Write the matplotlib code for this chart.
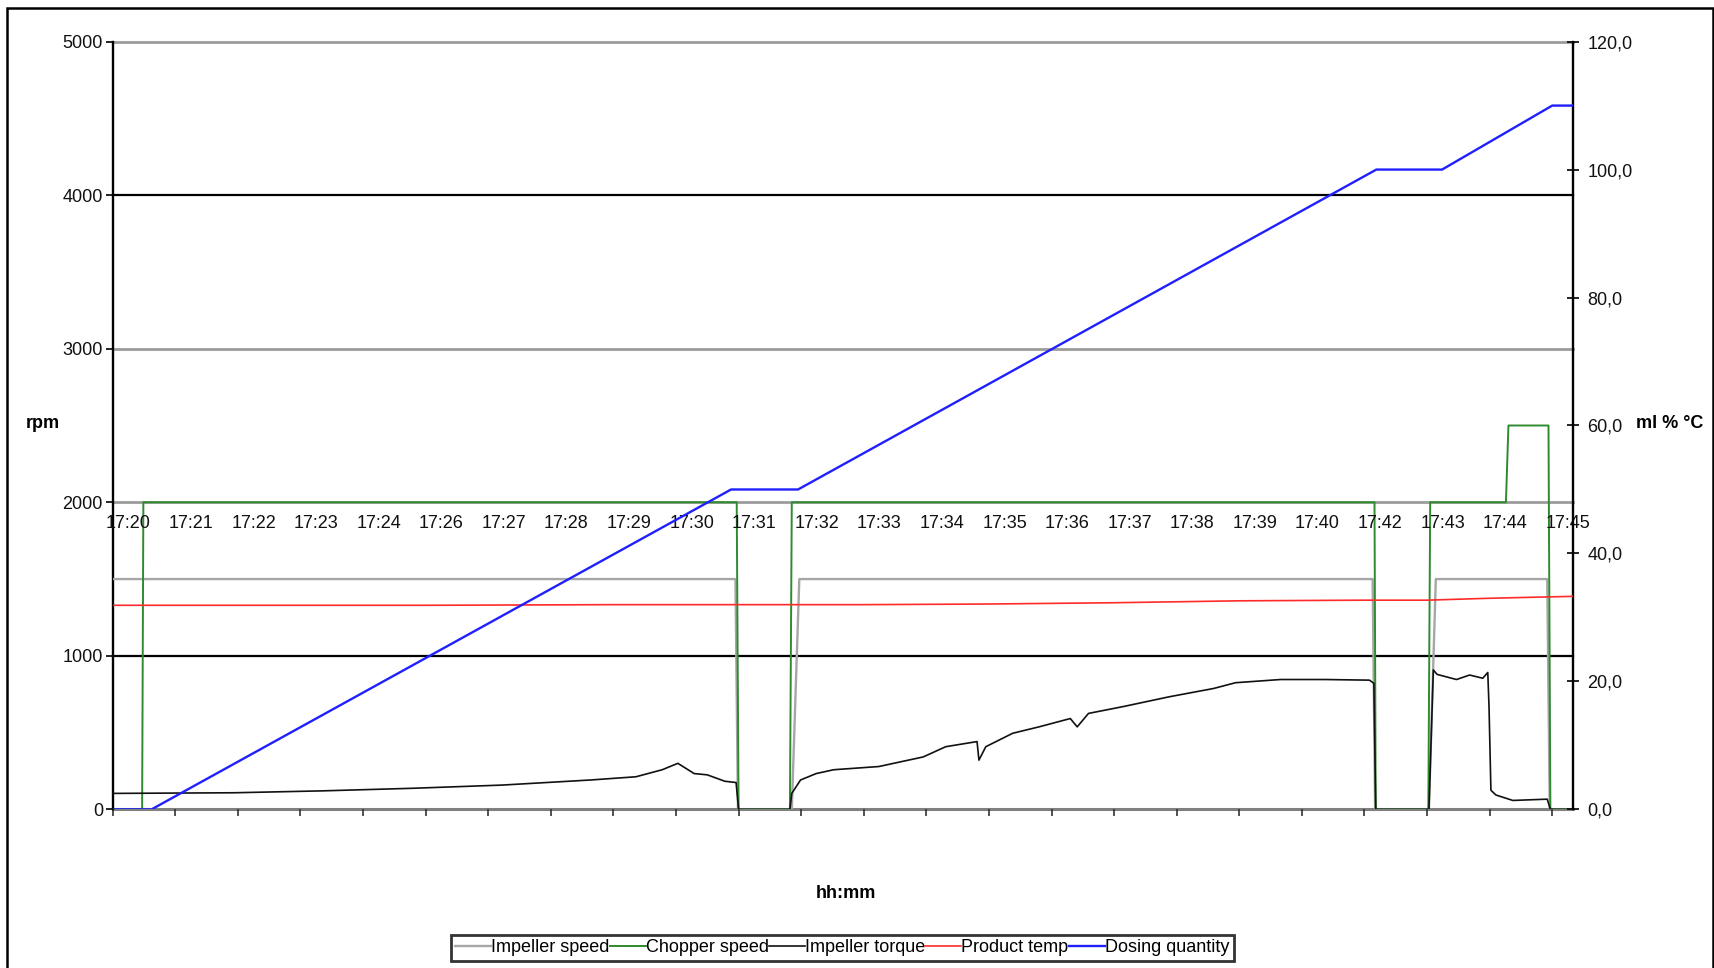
import matplotlib
matplotlib.use("Agg")
import matplotlib.pyplot as plt
from matplotlib.patches import Rectangle
from matplotlib.ticker import FuncFormatter

plt.rcParams['font.family'] = ['Liberation Sans', 'DejaVu Sans']

# ---- data (x in tick-index units: 0 = 17:20 label ... 23 = 17:45 label) ----
time_labels = ["17:20", "17:21", "17:22", "17:23", "17:24", "17:26", "17:27", "17:28",
               "17:29", "17:30", "17:31", "17:32", "17:33", "17:34", "17:35", "17:36",
               "17:37", "17:38", "17:39", "17:40", "17:42", "17:43", "17:44", "17:45"]

speed_t = [0, 9.95, 9.99, 10.85, 10.97, 20.13, 20.17, 21.03, 21.14, 22.92, 22.96, 23.33]
speed_rpm = [1500, 1500, 0, 0, 1500, 1500, 0, 0, 1500, 1500, 0, 0]

chopper_t = [0, 0.47, 0.49, 9.97, 10.0, 10.82, 10.85, 20.16, 20.18, 21.02, 21.05,
             22.26, 22.30, 22.94, 22.97, 23.33]
chopper_rpm = [0, 0, 2000, 2000, 0, 0, 2000, 2000, 0, 0, 2000, 2000, 2500, 2500, 0, 0]

torque_t = [0, 1.94, 3.36, 4.79, 6.22, 7.64, 8.36, 8.78, 9.03, 9.29, 9.5, 9.78, 9.96, 10.0,
            10.82, 10.85, 10.99, 11.24, 11.52, 12.24, 12.95, 13.31, 13.81, 13.84, 13.95,
            14.38, 14.8, 15.3, 15.41, 15.59, 16.16, 16.88, 17.59, 17.94, 18.66, 19.37,
            20.08, 20.15, 20.18, 21.03, 21.1, 21.16, 21.47, 21.68, 21.89, 21.97, 21.99,
            22.02, 22.1, 22.37, 22.92, 22.97, 23.33]
torque_pct = [2.5, 2.6, 2.9, 3.3, 3.8, 4.6, 5.1, 6.2, 7.2, 5.6, 5.4, 4.4, 4.2, 0.0,
              0.0, 2.5, 4.6, 5.6, 6.2, 6.7, 8.2, 9.8, 10.6, 7.7, 9.8,
              11.9, 12.9, 14.2, 12.9, 15.0, 16.1, 17.6, 18.9, 19.8, 20.3, 20.3,
              20.2, 19.7, 0.0, 0.0, 21.8, 21.1, 20.3, 21.0, 20.5, 21.4, 16.0,
              3.0, 2.25, 1.4, 1.6, 0.0, 0.0]

temp_t = [0, 2, 5, 8, 10, 12, 14, 16, 18, 20, 21, 22, 23.33]
temp_c = [31.9, 31.9, 31.9, 32.0, 32.0, 32.0, 32.1, 32.3, 32.6, 32.7, 32.7, 33.0, 33.3]

dose_t = [0, 0.62, 9.88, 10.95, 20.19, 21.24, 23.0, 23.33]
dose_ml = [0, 0, 50, 50, 100, 100, 110, 110]

# ---- figure ----
W, H = 1715, 968
fig = plt.figure(figsize=(W / 100, H / 100), dpi=100)
fig.patch.set_facecolor('white')

# outer border
fig.patches.append(Rectangle((7 / W, -0.05), (1713 - 7) / W, 1.05 - 8 / H,
                             transform=fig.transFigure, fill=False, edgecolor='black',
                             linewidth=1.8))

x0, x1, y0, y1 = 112.7, 1572.9, 41.6, 809.4
ax = fig.add_axes([x0 / W, 1 - y1 / H, (x1 - x0) / W, (y1 - y0) / H])
ax2 = ax.twinx()

ax.set_xlim(0, 23.33)
ax.set_ylim(0, 5000)
ax2.set_ylim(0, 120)

# gridlines
grid_colors = {1000: 'black', 2000: '#9c9c9c', 3000: '#9c9c9c', 4000: 'black', 5000: '#9c9c9c'}
for v, c in grid_colors.items():
    ax.axhline(v, color=c, lw=2.0 if c != 'black' else 1.6, zorder=1, clip_on=False)
ax.axhline(0, color='#808080', lw=2.2, zorder=1, clip_on=False)

for s in ['top', 'bottom', 'right']:
    ax.spines[s].set_visible(False)
for s in ['top', 'bottom', 'left']:
    ax2.spines[s].set_visible(False)
ax.spines['left'].set_linewidth(1.7)
ax2.spines['right'].set_linewidth(1.7)

# series
ax.plot(speed_t, speed_rpm, color='#a6a6a6', lw=1.7, label='Impeller speed', zorder=3)
ax.plot(chopper_t, chopper_rpm, color='#2e8b2e', lw=1.4, label='Chopper speed', zorder=4)
ax2.plot(torque_t, torque_pct, color='#111111', lw=1.2, label='Impeller torque', zorder=3)
ax2.plot(temp_t, temp_c, color='#ff2a2a', lw=1.2, label='Product temp', zorder=3)
ax2.plot(dose_t, dose_ml, color='#2020ff', lw=1.7, label='Dosing quantity', zorder=3)

# x ticks at bottom, labels floating at the 2000 level
ax.set_xticks(range(len(time_labels)))
ax.tick_params(axis='x', direction='out', length=5, width=1.2, labelbottom=False, color='#333333')
for i, lab in enumerate(time_labels):
    ax.text(i + 0.25, 1860, lab, ha='center', va='center', fontsize=13, color='#111111', zorder=5)

# left axis
ax.set_yticks([0, 1000, 2000, 3000, 4000, 5000])
ax.tick_params(axis='y', direction='out', length=5, width=1.2, pad=2, labelsize=13,
               labelcolor='#111111')

# right axis
ax2.set_yticks([0, 20, 40, 60, 80, 100, 120])
ax2.yaxis.set_major_formatter(FuncFormatter(lambda v, p: f"{v:.1f}".replace('.', ',')))
ax2.tick_params(axis='y', direction='inout', length=9, width=1.2, pad=6, labelsize=13,
                labelcolor='#111111')

# axis titles
fig.text(43 / W, 1 - 424 / H, 'rpm', ha='center', va='center', fontsize=13, fontweight='bold')
fig.text(1670 / W, 1 - 424 / H, 'ml % °C', ha='center', va='center', fontsize=13, fontweight='bold')
fig.text(845.5 / W, 1 - 893.6 / H, 'hh:mm', ha='center', va='center', fontsize=13, fontweight='bold')

# legend
h1, l1 = ax.get_legend_handles_labels()
h2, l2 = ax2.get_legend_handles_labels()
leg = fig.legend(h1 + h2, l1 + l2, loc='center', bbox_to_anchor=(842.2 / W, 1 - 947.8 / H),
                 ncol=5, fontsize=13, frameon=True, fancybox=False, handlelength=2.0,
                 handletextpad=0.0, columnspacing=0.0, borderpad=0.25, borderaxespad=0)
leg.get_frame().set_edgecolor('black')
leg.get_frame().set_linewidth(2.0)

fig.savefig('out.png', dpi=100, facecolor='white')
